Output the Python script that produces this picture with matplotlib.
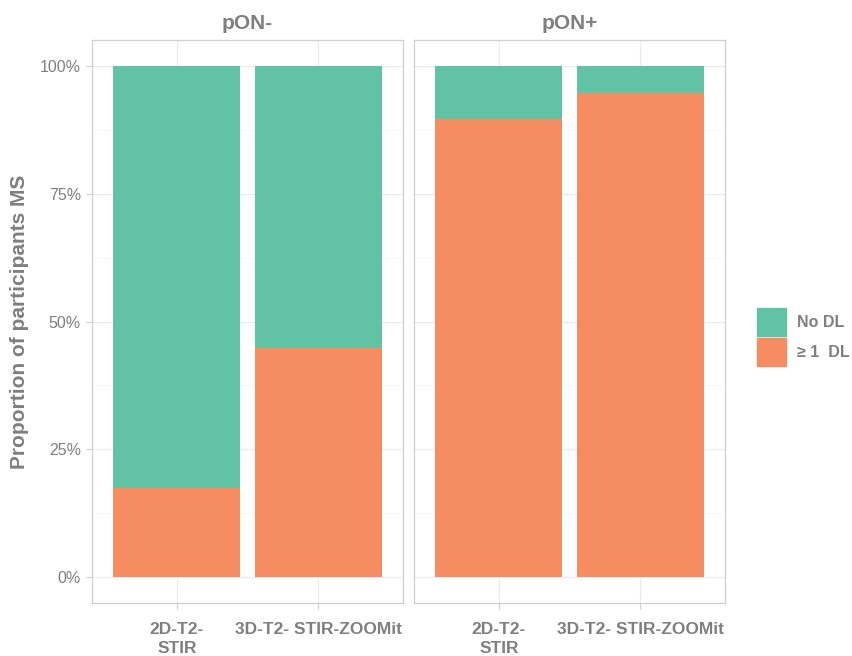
import matplotlib
matplotlib.use('Agg')
import matplotlib.pyplot as plt
from matplotlib.patches import Patch
from matplotlib.ticker import PercentFormatter
import numpy as np

plt.rcParams['font.family'] = ['Liberation Sans', 'DejaVu Sans']

# data
panels = ['pON-', 'pON+']
sequences = ['2D-T2-\nSTIR', '3D-T2- STIR-ZOOMit']
pon_neg_dl = [0.174, 0.448]   # share with >= 1 DL
pon_pos_dl = [0.895, 0.947]
dl_shares = [pon_neg_dl, pon_pos_dl]

green = '#62c3a4'
orange = '#f68c61'
txt = '#7f7f7f'
grid = '#ebebeb'
frame = '#cfcfcf'

fig = plt.figure(figsize=(8.53, 6.56), dpi=100)
lefts = [92 / 853, 414 / 853]
w = 311 / 853
bottom = 1 - 603 / 656
h = 563 / 656

x = np.arange(1, len(sequences) + 1)
for i, (name, dl) in enumerate(zip(panels, dl_shares)):
    ax = fig.add_axes([lefts[i], bottom, w, h])
    dl = np.array(dl)
    ax.bar(x, dl, width=0.9, color=orange, zorder=2)
    ax.bar(x, 1 - dl, bottom=dl, width=0.9, color=green, zorder=2)
    ax.set_xlim(0.4, 2.6)
    ax.set_ylim(-0.05, 1.05)
    ax.set_xticks(x)
    ax.set_xticklabels(sequences, fontweight='bold', color=txt, fontsize=12.5,
                       linespacing=1.3)
    ax.set_yticks([0, 0.25, 0.5, 0.75, 1.0])
    ax.yaxis.set_major_formatter(PercentFormatter(1.0, decimals=0))
    ax.set_yticks([0.125, 0.375, 0.625, 0.875], minor=True)
    ax.grid(True, which='major', color=grid, lw=0.9, zorder=0)
    ax.grid(True, which='minor', axis='y', color='#f5f5f5', lw=0.5, zorder=0)
    ax.tick_params(axis='both', which='major', colors=frame, labelcolor=txt,
                   length=4, width=0.8)
    ax.tick_params(axis='y', labelsize=11.5, pad=4)
    ax.tick_params(axis='x', pad=10)
    ax.tick_params(axis='y', which='minor', length=0)
    for s in ax.spines.values():
        s.set_color(frame)
        s.set_linewidth(0.9)
    ax.set_title(name, fontweight='bold', color=txt, fontsize=15, pad=8)
    if i == 0:
        ax.set_ylabel('Proportion of participants MS', fontweight='bold',
                      color=txt, fontsize=15, labelpad=8)
    else:
        ax.tick_params(axis='y', labelleft=False, left=False)

handles = [Patch(color=green, label='No DL'), Patch(color=orange, label='\u2265 1  DL')]
leg = fig.legend(handles=handles, loc='center left', bbox_to_anchor=(751 / 853, 1 - 337 / 656),
                 frameon=False, handlelength=1.8, handleheight=2.3, labelspacing=0.1,
                 handletextpad=0.7, borderpad=0.2, borderaxespad=0.2,
                 prop={'weight': 'bold', 'size': 11.5})
for t in leg.get_texts():
    t.set_color(txt)

fig.savefig('out.png', dpi=100)
